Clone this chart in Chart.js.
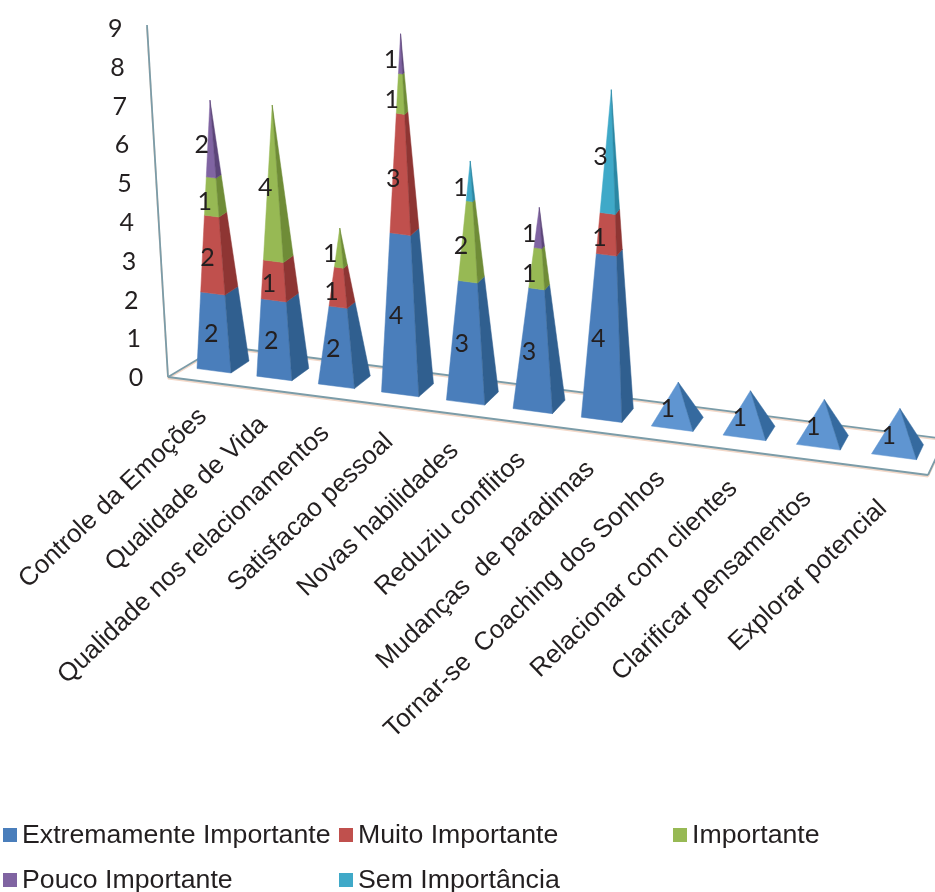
<!DOCTYPE html>
<html>
<head>
<meta charset="utf-8">
<title>Pyramid chart</title>
<script src="https://cdn.jsdelivr.net/npm/chart.js@4/dist/chart.umd.js"></script>
<style>
    html, body { margin: 0; padding: 0; background: #fff; }
    canvas { display: block; }
</style>
</head>
<body>
<canvas id="chart" width="935" height="892"></canvas>
<script>
const categories = ["Controle da Emoções", "Qualidade de Vida", "Qualidade nos relacionamentos", "Satisfacao pessoal", "Novas habilidades", "Reduziu conflitos", "Mudanças  de paradimas", "Tornar-se  Coaching dos Sonhos", "Relacionar com clientes", "Clarificar pensamentos", "Explorar potencial"];
const extremamente = [2, 2, 2, 4, 3, 3, 4, 1, 1, 1, 1];
const muito = [2, 1, 1, 3, 0, 0, 1, 0, 0, 0, 0];
const importante = [1, 4, 1, 1, 2, 1, 0, 0, 0, 0, 0];
const pouco = [2, 0, 0, 1, 0, 1, 0, 0, 0, 0, 0];
const semImportancia = [0, 0, 0, 0, 1, 0, 3, 0, 0, 0, 0];
const valueTicks = [0, 1, 2, 3, 4, 5, 6, 7, 8, 9];

const seriesNames = ["Extremamente Importante", "Muito Importante", "Importante", "Pouco Importante", "Sem Importância"];
const frontColors = ["#4a7ebb", "#c0504d", "#97b954", "#8064a2", "#3fa9c8"];
const sideColors = ["#305f8f", "#8e3533", "#6f8c37", "#5c4579", "#2a87a3"];

const LABEL_FONT = "25px Lato";
const LEGEND_FONT = "26.7px 'Liberation Sans'";
const CATEGORY_FONT = "25.8px 'Liberation Sans'";
const TEXT_COLOR = "#231f20";

// the fake 3d frame, a perspective look on the plain scales
const WALL_BOTTOM = [168, 377];
const WALL_TOP = [147, 25];
const FLOOR_RIGHT = [928, 475];
const FLOOR_BACK_LEFT = [220, 346];
const FLOOR_BACK_RIGHT = [945, 439];
const FLOOR_SLOPE = 0.1265;

function lerp(a, b, t) {
    return [a[0] + (b[0] - a[0]) * t, a[1] + (b[1] - a[1]) * t];
}

// column number along the category axis
function columnOf(xScale, px) {
    return (px - xScale.getPixelForValue(0)) / (xScale.getPixelForValue(1) - xScale.getPixelForValue(0));
}

function pyramidShape(chart, index) {
    const xScale = chart.scales.x;
    const yScale = chart.scales.y;
    const px = xScale.getPixelForValue(index);
    const u = columnOf(xScale, px);
    const sx = px + 0.85 * u * (u - 10);
    const frontWidth = 34 + 1.1 * u;
    const sideX = 18 - 1.1 * u;
    const sideY = 12 + 0.3 * u;
    const yFront = yScale.getPixelForValue(0) + FLOOR_SLOPE * (sx + frontWidth / 2 - 231) - 4;

    const fl = [sx - frontWidth / 2, yFront - frontWidth * 0.13];
    const fr = [sx + frontWidth / 2, yFront];
    const br = [fr[0] + sideX, yFront - sideY];
    const centre = lerp(fl, br, 0.5);

    let total = 0;
    chart.data.datasets.forEach(ds => total += ds.data[index]);
    // higher values come closer to the camera, so they stretch a bit
    const unitGrow = 0.97 + (sx - 214) * 0.00016 + (total - 6) * 0.005;
    const h = (yScale.getPixelForValue(0) - yScale.getPixelForValue(total)) * unitGrow;
    const lean = (centre[0] - 530) * 0.00016;
    const apex = [centre[0] + lean * h, centre[1] - h];
    return { fl, fr, br, centre, apex, total };
}

function fillQuad(ctx, a, b, c, d, color) {
    ctx.fillStyle = color;
    ctx.strokeStyle = color;
    ctx.lineWidth = 0.5;
    ctx.beginPath();
    ctx.moveTo(a[0], a[1]);
    ctx.lineTo(b[0], b[1]);
    ctx.lineTo(c[0], c[1]);
    ctx.lineTo(d[0], d[1]);
    ctx.closePath();
    ctx.fill();
    ctx.stroke();
}

function drawLine(ctx, a, b) {
    ctx.beginPath();
    ctx.moveTo(a[0], a[1]);
    ctx.lineTo(b[0], b[1]);
    ctx.stroke();
}

function drawFrame(ctx) {
    const lines = [[WALL_BOTTOM, WALL_TOP], [WALL_BOTTOM, FLOOR_RIGHT], [WALL_BOTTOM, FLOOR_BACK_LEFT], [FLOOR_BACK_LEFT, FLOOR_BACK_RIGHT], [FLOOR_RIGHT, FLOOR_BACK_RIGHT]];
    ctx.lineWidth = 1.8;
    ctx.strokeStyle = "#f3d8c8";
    lines.forEach(l => drawLine(ctx, [l[0][0], l[0][1] + 1.5], [l[1][0], l[1][1] + 1.5]));
    ctx.strokeStyle = "#7b9ca8";
    lines.forEach(l => drawLine(ctx, l[0], l[1]));
}

function drawPyramids(chart) {
    const ctx = chart.ctx;
    categories.forEach((name, i) => {
        const s = pyramidShape(chart, i);
        let below = 0;
        chart.data.datasets.forEach((ds, k) => {
            const v = ds.data[i];
            if (!v) return;
            const t0 = below / s.total;
            const t1 = (below + v) / s.total;
            // the one unit pyramids catch more light in the reference
            const front = s.total === 1 ? "#5f95d1" : frontColors[k];
            const side = s.total === 1 ? "#356a9f" : sideColors[k];
            fillQuad(ctx, lerp(s.fl, s.apex, t0), lerp(s.fr, s.apex, t0), lerp(s.fr, s.apex, t1), lerp(s.fl, s.apex, t1), front);
            fillQuad(ctx, lerp(s.fr, s.apex, t0), lerp(s.br, s.apex, t0), lerp(s.br, s.apex, t1), lerp(s.fr, s.apex, t1), side);
            below += v;
        });
    });
}

function drawValueLabels(chart) {
    const ctx = chart.ctx;
    ctx.font = LABEL_FONT;
    ctx.fillStyle = TEXT_COLOR;
    ctx.textAlign = "center";
    ctx.textBaseline = "middle";
    categories.forEach((name, i) => {
        const s = pyramidShape(chart, i);
        let below = 0;
        chart.data.datasets.forEach(ds => {
            const v = ds.data[i];
            if (!v) return;
            const p = lerp(s.centre, s.apex, (below + v / 2) / s.total);
            ctx.fillText(String(v), p[0] - 10, p[1] + 7);
            below += v;
        });
    });
}

function drawAxisText(chart) {
    const ctx = chart.ctx;
    const yScale = chart.scales.y;

    ctx.font = LABEL_FONT;
    ctx.fillStyle = TEXT_COLOR;
    ctx.textAlign = "center";
    ctx.textBaseline = "middle";
    valueTicks.forEach(tick => {
        const y = yScale.getPixelForValue(tick);
        const wallX = WALL_BOTTOM[0] + (WALL_TOP[0] - WALL_BOTTOM[0]) * (WALL_BOTTOM[1] - y) / (WALL_BOTTOM[1] - WALL_TOP[1]);
        ctx.fillText(String(tick), wallX - 32, y + 1);
    });

    ctx.font = CATEGORY_FONT;
    ctx.textAlign = "right";
    categories.forEach((name, i) => {
        const s = pyramidShape(chart, i);
        const mid = lerp(s.fl, s.fr, 0.5);
        ctx.save();
        ctx.translate(mid[0] - 11, mid[1] + 42 + 0.6 * i);
        ctx.rotate(-43.5 * Math.PI / 180);
        ctx.fillText(name, 0, 0);
        ctx.restore();
    });
}

function drawLegend(chart) {
    const ctx = chart.ctx;
    const slots = [[3, 835], [339, 835], [673, 835], [3, 880], [339, 880]];
    ctx.font = LEGEND_FONT;
    ctx.textAlign = "left";
    ctx.textBaseline = "middle";
    chart.data.datasets.forEach((ds, k) => {
        ctx.fillStyle = frontColors[k];
        ctx.fillRect(slots[k][0], slots[k][1] - 7, 14, 14);
        ctx.fillStyle = TEXT_COLOR;
        ctx.fillText(ds.label, slots[k][0] + 19, slots[k][1] + 1);
    });
}

const pyramidPlugin = {
    id: "pyramids",
    // stop the flat bars, the same stack is drawn in the fake 3d view instead
    beforeDatasetsDraw(chart) {
        drawFrame(chart.ctx);
        drawPyramids(chart);
        return false;
    },
    afterDraw(chart) {
        drawValueLabels(chart);
        drawAxisText(chart);
        drawLegend(chart);
    }
};

const seriesValues = [extremamente, muito, importante, pouco, semImportancia];

new Chart(document.getElementById("chart"), {
    type: "bar",
    data: {
        labels: categories,
        datasets: seriesNames.map((name, k) => ({
            label: name,
            data: seriesValues[k],
            backgroundColor: frontColors[k]
        }))
    },
    options: {
        responsive: false,
        animation: false,
        layout: { padding: { left: 180, right: 7, top: 28, bottom: 515 } },
        plugins: { legend: { display: false }, tooltip: { enabled: false } },
        scales: {
            x: { stacked: true, grid: { display: false }, border: { display: false }, ticks: { display: false }, afterFit(s) { s.height = 0; } },
            y: { stacked: true, min: 0, max: 9, grid: { display: false }, border: { display: false }, ticks: { display: false, stepSize: 1 }, afterFit(s) { s.width = 0; } }
        }
    },
    plugins: [pyramidPlugin]
});
</script>
</body>
</html>
